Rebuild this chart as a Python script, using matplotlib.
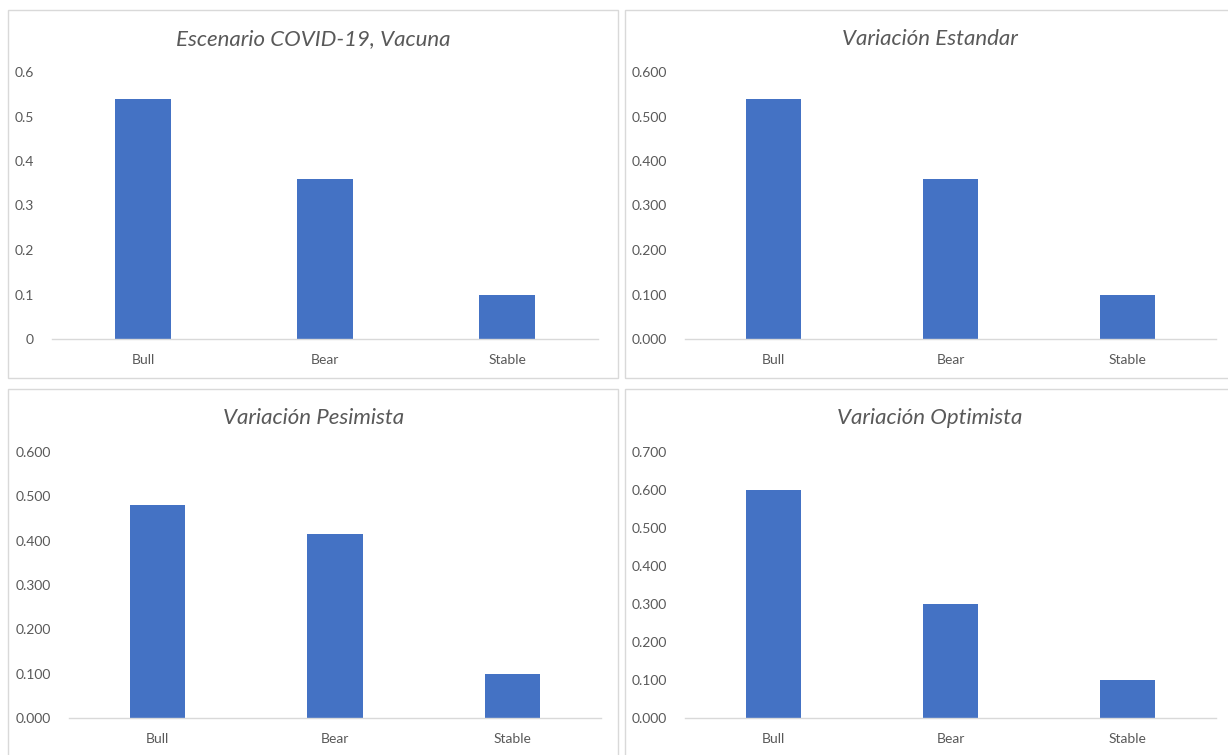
import matplotlib
matplotlib.use("Agg")
import matplotlib.pyplot as plt
from matplotlib.patches import Rectangle
import numpy as np

plt.rcParams['font.family'] = ['Lato', 'DejaVu Sans']

categories = ["Bull", "Bear", "Stable"]
titles = ["Escenario COVID-19, Vacuna", "Variación Estandar",
          "Variación Pesimista", "Variación Optimista"]
vacuna = [0.54, 0.36, 0.10]
estandar = [0.54, 0.36, 0.10]
pesimista = [0.48, 0.415, 0.10]
optimista = [0.60, 0.30, 0.10]
series = [vacuna, estandar, pesimista, optimista]
ymax = [0.6, 0.6, 0.6, 0.7]
decimals = [None, 3, 3, 3]   # None = Excel "General" format

W, H = 1228, 755
bar_color = "#4472C4"
grey = "#595959"
line_grey = "#D9D9D9"


def fmt(v, d):
    if d is None:
        return "0" if abs(v) < 1e-9 else "{:g}".format(round(v, 1))
    return "{:.{}f}".format(v, d)


fig = plt.figure(figsize=(W / 100, H / 100), dpi=100)

# panel frames (px): x0, y0, x1, y1
frames = [(8, 10, 618, 378), (625, 10, 1240, 378),
          (8, 389, 618, 770), (625, 389, 1240, 770)]
# plot areas (px): left, right, top(ymax), baseline
areas = [(52, 598, 72, 339), (685, 1216, 72, 339),
         (69, 601, 452, 718), (685, 1216, 452, 718)]
title_pos = [(313, 39), (930, 39), (314, 418), (930, 418)]

for i in range(4):
    fx0, fy0, fx1, fy1 = frames[i]
    fig.patches.append(Rectangle((fx0 / W, 1 - fy1 / H), (fx1 - fx0) / W, (fy1 - fy0) / H,
                                 transform=fig.transFigure, fill=False,
                                 edgecolor=line_grey, linewidth=1))
    l, r, t, b = areas[i]
    ax = fig.add_axes([l / W, 1 - b / H, (r - l) / W, (b - t) / H])
    x = np.arange(len(categories))
    ax.bar(x, series[i], width=0.313, color=bar_color, zorder=2)
    ax.set_xlim(-0.5, 2.5)
    ax.set_ylim(0, ymax[i])
    ticks = np.arange(0, ymax[i] + 0.001, 0.1)
    ax.set_yticks(ticks)
    ax.set_yticklabels([fmt(v, decimals[i]) for v in ticks])
    ax.set_xticks(x)
    ax.set_xticklabels(categories)
    for s in ["top", "right", "left"]:
        ax.spines[s].set_visible(False)
    ax.spines["bottom"].set_color(line_grey)
    ax.spines["bottom"].set_linewidth(1)
    ax.tick_params(axis="both", length=0, colors=grey, labelsize=10)
    ax.tick_params(axis="y", pad=13)
    ax.tick_params(axis="x", pad=11)
    ax.patch.set_alpha(0)
    tx, ty = title_pos[i]
    fig.text(tx / W, 1 - ty / H, titles[i], ha="center", va="center",
             fontsize=16, style="italic", color=grey)

fig.savefig("out.png", dpi=100)
